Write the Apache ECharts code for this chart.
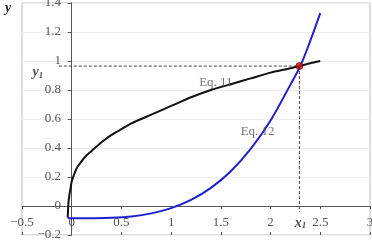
<!DOCTYPE html>
<html><head><meta charset="utf-8">
<script src="https://cdn.jsdelivr.net/npm/echarts@6/dist/echarts.min.js"></script>
<style>html,body{margin:0;padding:0;background:#fff}#c{width:372px;height:252px}</style>
</head><body><div id="c"></div>
<script>
// Eq. 11 (black curve)
var eq11X = [-0.04,-0.035,-0.03,-0.02,-0.01,0,0.02,0.05,0.1,0.15,0.2,0.3,0.4,0.5,0.6,0.8,1.0,1.2,1.4,1.6,1.8,2.0,2.2,2.4,2.5];
var eq11Y = [-0.08,0.0,0.04,0.09,0.13,0.17,0.21,0.26,0.31,0.35,0.38,0.44,0.49,0.53,0.57,0.63,0.69,0.75,0.80,0.84,0.88,0.92,0.95,0.985,1.0];
// Eq. 12 (blue curve)
var eq12X = [-0.04,0,0.2,0.4,0.6,0.8,1.0,1.2,1.4,1.6,1.8,2.0,2.2,2.3,2.4,2.5];
var eq12Y = [-0.083,-0.085,-0.084,-0.081,-0.072,-0.051,-0.015,0.042,0.125,0.24,0.394,0.59,0.837,0.966,1.14,1.33];
// intersection
var x1 = 2.29, y1 = 0.965;
var xTicks = [-0.5,0,0.5,1,1.5,2,2.5,3];
var yTicks = [-0.2,0,0.2,0.4,0.6,0.8,1,1.2,1.4];
var curveLabels = ['Eq. 11','Eq. 12'];
var curveLabelPos = [[1.45,0.85],[1.87,0.51]];

function zip(a,b){return a.map(function(v,i){return [v,b[i]];});}
function fmt(v){return String(Math.round(v*10)/10).replace('-','\u2212');}
var font = '"Liberation Serif","DejaVu Serif",serif';
var chart = echarts.init(document.getElementById('c'));
chart.setOption({
  animation:false,
  grid:{left:22,right:2,top:3,bottom:17,show:true,borderColor:'#bbb',borderWidth:1,outerBoundsMode:'none',containLabel:false},
  graphic:[{type:'text',left:5,top:1,style:{text:'y',font:'italic bold 14px '+font,fill:'#222'}}],
  xAxis:[
    {type:'value',min:xTicks[0],max:xTicks[xTicks.length-1],interval:0.5,splitLine:{show:false},
      axisLine:{onZero:true,lineStyle:{color:'#555',width:1}},
      axisTick:{show:true,length:3,lineStyle:{color:'#555'}},
      axisLabel:{color:'#555',fontFamily:font,fontSize:13,margin:-19,showMinLabel:true,showMaxLabel:true,formatter:fmt}},
    {type:'value',min:xTicks[0],max:xTicks[xTicks.length-1],interval:0.5,position:'bottom',
      axisLine:{show:false,onZero:true},axisTick:{show:true,inside:true,length:3,lineStyle:{color:'#555'}},
      axisLabel:{show:false},splitLine:{show:false}}
  ],
  yAxis:{type:'value',min:yTicks[0],max:yTicks[yTicks.length-1],interval:0.2,
    axisLine:{onZero:true,lineStyle:{color:'#555',width:1}},
    axisTick:{show:true,length:4,lineStyle:{color:'#555'}},
    splitLine:{show:true,lineStyle:{color:'#ececec'}},
    axisLabel:{color:'#555',fontFamily:font,fontSize:13,margin:-39,showMinLabel:true,showMaxLabel:true,formatter:fmt}},
  series:[
    {type:'line',data:zip(eq11X,eq11Y),showSymbol:false,smooth:0.2,lineStyle:{color:'#111',width:2},z:3},
    {type:'line',data:zip(eq12X,eq12Y),showSymbol:false,smooth:0.3,lineStyle:{color:'#1f1fd0',width:2},z:3},
    {type:'line',data:[[-0.13,y1],[x1,y1]],showSymbol:false,lineStyle:{color:'#444',width:1,type:[3,2]},z:2},
    {type:'line',data:[[x1,y1],[x1,-0.04]],showSymbol:false,lineStyle:{color:'#444',width:1,type:[3,2]},z:2},
    {type:'scatter',data:[[x1,y1]],symbolSize:7,itemStyle:{color:'#c81010',borderColor:'#600',borderWidth:0.8},z:5},
    {type:'scatter',symbolSize:0,data:curveLabelPos.map(function(p,i){return {value:p,label:{formatter:curveLabels[i]}};}),
      label:{show:true,position:'inside',color:'#555',fontFamily:font,fontSize:13},z:4},
    {type:'scatter',symbolSize:0,data:[
        {value:[-0.34,0.92],label:{formatter:'{i|y}{s|1}'}},
        {value:[2.30,-0.117],label:{formatter:'{i|x}{s|1}'}}],
      label:{show:true,position:'inside',rich:{
        i:{fontFamily:font,fontStyle:'italic',fontWeight:'bold',fontSize:14,color:'#222'},
        s:{fontFamily:font,fontStyle:'italic',fontWeight:'bold',fontSize:9,color:'#222',verticalAlign:'bottom',padding:[6,0,0,0]}}},z:4}
  ]
});
</script></body></html>
